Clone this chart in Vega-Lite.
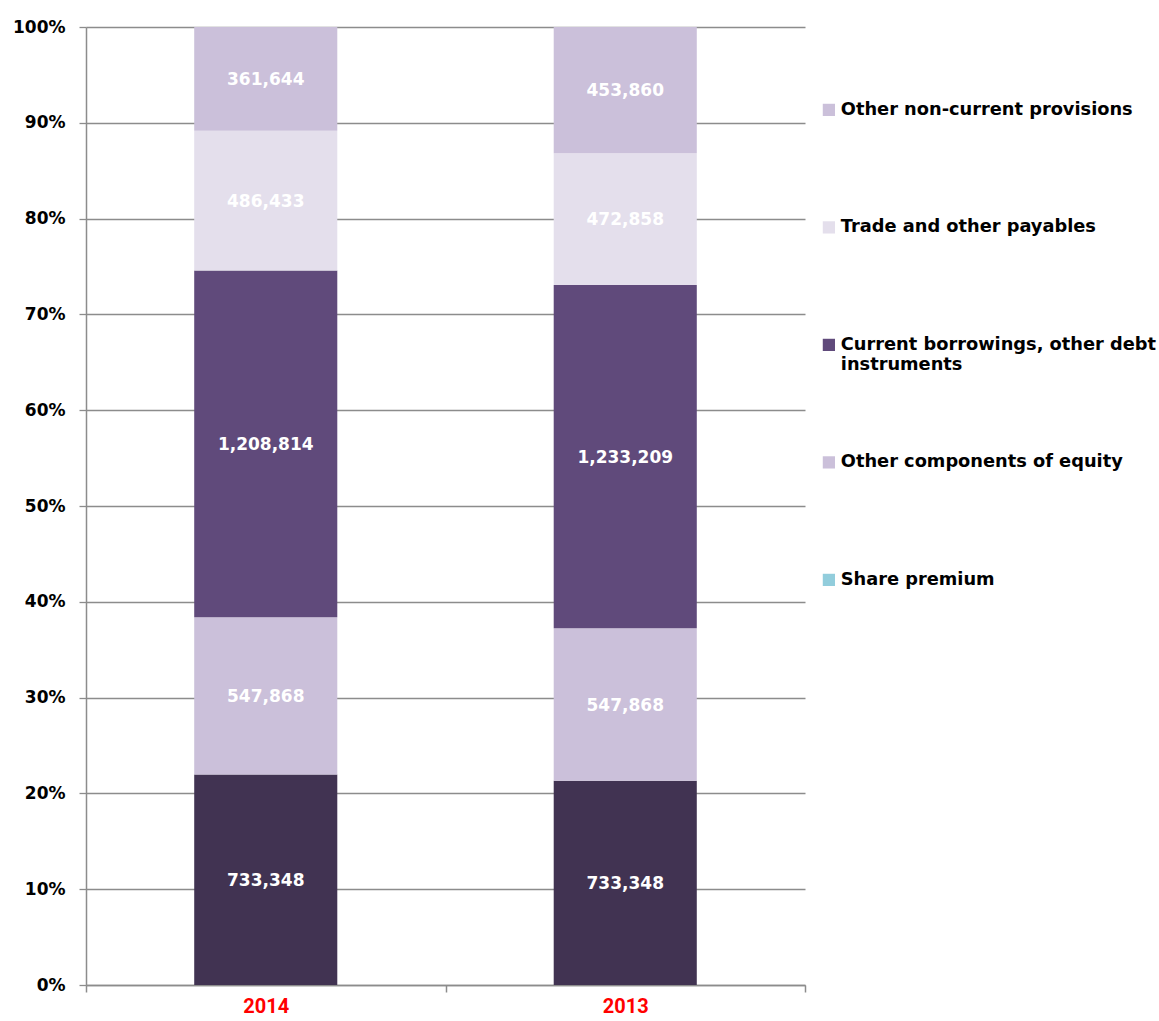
{
  "$schema": "https://vega.github.io/schema/vega-lite/v6.json",
  "width": 719,
  "height": 958,
  "autosize": "none",
  "padding": {"left": 86, "top": 27, "right": 354, "bottom": 36},
  "background": "white",
  "config": {"view": {"stroke": null}, "font": "DejaVu Sans"},
  "data": {"values": [
    {"year": "2014", "series": "Share premium", "ord": 1, "value": 733348},
    {"year": "2014", "series": "Other components of equity", "ord": 2, "value": 547868},
    {"year": "2014", "series": "Current borrowings, other debt instruments", "ord": 3, "value": 1208814},
    {"year": "2014", "series": "Trade and other payables", "ord": 4, "value": 486433},
    {"year": "2014", "series": "Other non-current provisions", "ord": 5, "value": 361644},
    {"year": "2013", "series": "Share premium", "ord": 1, "value": 733348},
    {"year": "2013", "series": "Other components of equity", "ord": 2, "value": 547868},
    {"year": "2013", "series": "Current borrowings, other debt instruments", "ord": 3, "value": 1233209},
    {"year": "2013", "series": "Trade and other payables", "ord": 4, "value": 472858},
    {"year": "2013", "series": "Other non-current provisions", "ord": 5, "value": 453860}
  ]},
  "transform": [
    {"joinaggregate": [{"op": "sum", "field": "value", "as": "total"}], "groupby": ["year"]},
    {"window": [{"op": "sum", "field": "value", "as": "cum"}], "groupby": ["year"], "sort": [{"field": "ord"}], "frame": [null, 0]},
    {"calculate": "(datum.cum - datum.value/2)/datum.total", "as": "mid"}
  ],
  "resolve": {"scale": {"color": "independent", "fill": "independent"}, "legend": {"color": "independent", "fill": "independent"}},
  "layer": [
    {
      "mark": {"type": "bar", "width": {"band": 0.398}},
      "encoding": {
        "x": {
          "field": "year", "type": "nominal", "sort": ["2014", "2013"],
          "scale": {"paddingInner": 0, "paddingOuter": 0},
          "axis": {
            "title": null, "labelAngle": 0, "tickBand": "extent", "tickSize": 7,
            "tickColor": "#8c8c8c", "tickWidth": 1.5, "domainColor": "#8c8c8c", "domainWidth": 1.5,
            "labelColor": "#ff0000", "labelFont": "Roboto", "labelFontWeight": "bold",
            "labelFontSize": 20, "labelPadding": 4
          }
        },
        "y": {
          "field": "value", "type": "quantitative", "stack": "normalize",
          "scale": {"domain": [0, 1], "nice": false},
          "axis": {
            "title": null, "format": ".0%", "values": [0, 0.1, 0.2, 0.3, 0.4, 0.5, 0.6, 0.7, 0.8, 0.9, 1],
            "grid": true, "gridColor": "#8c8c8c", "gridWidth": 1.3,
            "domainColor": "#8c8c8c", "domainWidth": 1.5, "tickColor": "#8c8c8c", "tickWidth": 1.3, "tickSize": 7,
            "labelFont": "DejaVu Sans", "labelFontWeight": "bold", "labelFontSize": 17,
            "labelColor": "#000000", "labelPadding": 14
          }
        },
        "color": {
          "field": "series", "type": "nominal",
          "scale": {
            "domain": ["Other non-current provisions", "Trade and other payables", "Current borrowings, other debt instruments", "Other components of equity", "Share premium"],
            "range": ["#cbc0da", "#e4dfec", "#604a7b", "#cbc0da", "#413352"]
          },
          "legend": null
        },
        "order": {"field": "ord", "type": "quantitative"}
      }
    },
    {
      "mark": {"type": "text", "color": "white", "fontWeight": "bold", "fontSize": 17, "font": "DejaVu Sans", "dy": 1},
      "encoding": {
        "x": {"field": "year", "type": "nominal", "sort": ["2014", "2013"]},
        "y": {"field": "mid", "type": "quantitative"},
        "text": {"field": "value", "type": "quantitative", "format": ","}
      }
    },
    {
      "mark": {"type": "square", "opacity": 0, "filled": true},
      "encoding": {
        "x": {"field": "year", "type": "nominal", "sort": ["2014", "2013"]},
        "y": {"field": "mid", "type": "quantitative"},
        "fill": {
          "field": "series", "type": "nominal",
          "scale": {
            "domain": ["Other non-current provisions", "Trade and other payables", "Current borrowings, other debt instruments", "Other components of equity", "Share premium"],
            "range": ["#cbc0da", "#e4dfec", "#604a7b", "#cbc0da", "#92cddc"]
          },
          "legend": {
            "title": null, "orient": "none", "legendX": 734, "legendY": 74,
            "symbolType": "square", "symbolSize": 150, "symbolOpacity": 1, "symbolStrokeWidth": 0,
            "labelFont": "DejaVu Sans", "labelFontWeight": "bold", "labelFontSize": 17.8, "labelColor": "#000000",
            "labelOffset": 3, "labelLimit": 400, "rowPadding": 78.5, "gridAlign": "all",
            "labelExpr": "datum.label == 'Current borrowings, other debt instruments' ? ['Current borrowings, other debt', 'instruments'] : datum.label"
          }
        }
      }
    }
  ]
}
